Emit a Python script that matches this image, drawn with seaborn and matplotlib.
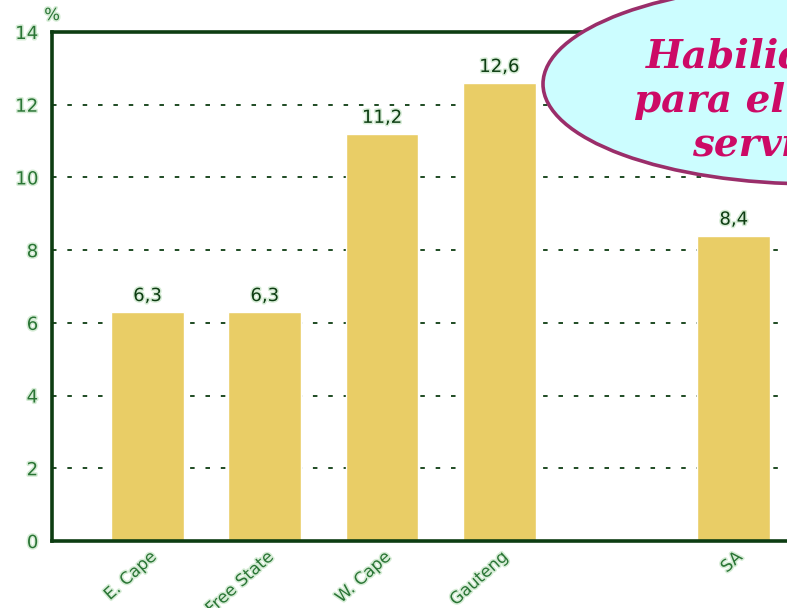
import numpy as np
import pandas as pd
import matplotlib
matplotlib.use("Agg")
import matplotlib.pyplot as plt
import matplotlib.patheffects as pe
from matplotlib.patches import Ellipse
import seaborn as sns

# Share of population (%) by province
regions = ["E. Cape", "Free State", "W. Cape", "Gauteng", "SA"]
shares = [6.3, 6.3, 11.2, 12.6, 8.4]
# Slot order, with an empty slot before the national figure
slot_order = ["E. Cape", "Free State", "W. Cape", "Gauteng", " ", "SA"]
y_ticks = [0, 2, 4, 6, 8, 10, 12, 14]
bubble_lines = ["Habilidades", "para el sector", "servicios"]

sns.set_theme(style="white")
plt.rcParams["font.family"] = ["DejaVu Sans"]

W, H = 787, 608
fig = plt.figure(figsize=(W / 100, H / 100), dpi=100)
fig.patch.set_facecolor("white")

left_px, right_px, top_px, bottom_px = 52, 910, 32, 541
ax = fig.add_axes([left_px / W, 1 - bottom_px / H,
                   (right_px - left_px) / W, (bottom_px - top_px) / H])
ax.set_facecolor("white")

df = pd.DataFrame({"region": regions, "share": shares})
sns.barplot(data=df, x="region", y="share", order=slot_order,
            color="#e9cd66", saturation=1, width=0.62, ax=ax)

slot_px = 117.25
x0 = -(147.5 - left_px) / slot_px
ax.set_xlim(x0, x0 + (right_px - left_px) / slot_px)
ax.set_ylim(0, 14)

dark = "#0d3d12"
label_green = "#2a7535"
glow = [pe.withStroke(linewidth=2.2, foreground="#d6ecd6")]

for s in ["left", "bottom", "top"]:
    ax.spines[s].set_color(dark)
    ax.spines[s].set_linewidth(2.6)
ax.spines["right"].set_visible(False)

for v in y_ticks[1:-1]:
    ax.axhline(v, color=dark, lw=1.3, ls=(0, (2.5, 6)), zorder=0)

ax.set_yticks(y_ticks)
ax.set_yticklabels([str(v) for v in y_ticks], color=label_green, fontsize=13)
for t in ax.get_yticklabels():
    t.set_path_effects(glow)
ax.tick_params(axis="y", length=0, pad=10)

ax.set_xticks(range(len(slot_order)))
ax.set_xticklabels(slot_order, rotation=42, ha="right", va="top",
                   rotation_mode="anchor", color=label_green, fontsize=12)
for t in ax.get_xticklabels():
    t.set_path_effects(glow)
ax.tick_params(axis="x", length=0, pad=5)
ax.set_xlabel("")
ax.set_ylabel("")

for cont in ax.containers:
    labels = [f"{v:.1f}".replace(".", ",") for v in cont.datavalues]
    texts = ax.bar_label(cont, labels=labels, padding=5, color=dark, fontsize=13)
    for t in texts:
        t.set_path_effects(glow)

fig.text(52 / W, 1 - 15 / H, "%", color=label_green, fontsize=12,
         ha="center", va="center", path_effects=glow)

# Title bubble
bubble = Ellipse((815 / W, 1 - 84 / H), 544 / W, 200 / H,
                 transform=fig.transFigure, facecolor="#ccfdff",
                 edgecolor="#9a2e6a", lw=2.6, zorder=5)
fig.patches.append(bubble)
bubble_font = dict(color="#cc0a66", fontsize=28, fontstyle="italic",
                   fontweight="bold", family="DejaVu Serif", ha="left",
                   va="baseline", zorder=6)
for txt, xp, yp in zip(bubble_lines, [646, 634, 692], [68, 112, 156]):
    fig.text(xp / W, 1 - yp / H, txt, **bubble_font)

fig.savefig("out.png", dpi=100, facecolor="white")
